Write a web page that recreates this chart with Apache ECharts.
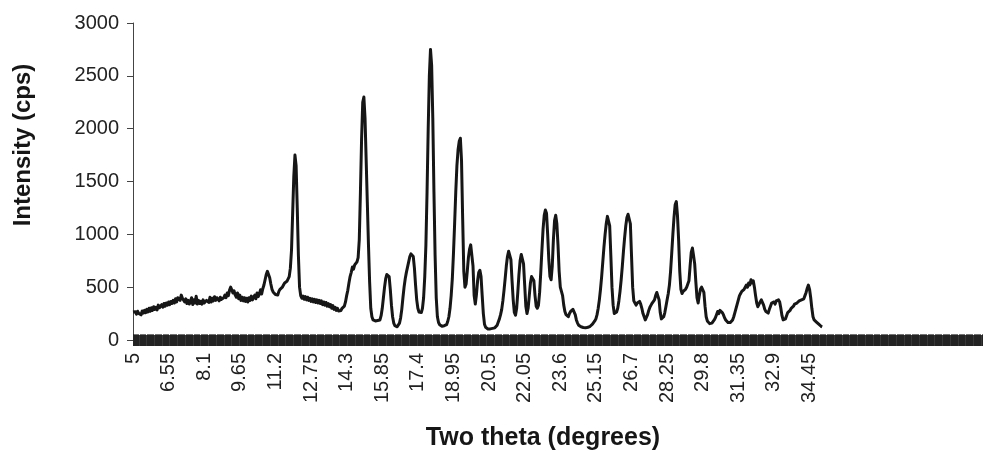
<!DOCTYPE html>
<html>
<head>
<meta charset="utf-8">
<script src="https://cdn.jsdelivr.net/npm/echarts@6/dist/echarts.min.js"></script>
<style>
  html, body { margin: 0; padding: 0; background: #ffffff; }
  #chart { width: 983px; height: 452px; }
</style>
</head>
<body>
<div id="chart"></div>
<script>
// Powder diffraction scan, 5.00–35.00 degrees two theta in 0.05 degree steps.
const startAngle = 5;
const stepAngle = 0.05;
const lastCategory = 42;      // the category axis runs on past the end of the scan
const lastLabelled = 35;

// Intensity (cps), one row per degree (20 readings each), last reading at 35.00
const intensity = [
  265,250,268,245,272,252,262,238,275,255,280,258,290,265,300,272,305,280,315,290,
  310,285,330,305,298,335,310,345,320,350,330,360,335,365,345,375,350,390,360,400,
  415,375,425,395,390,360,390,345,375,340,365,400,335,380,350,415,340,375,345,365,
  340,380,350,335,375,390,355,405,360,395,370,410,375,400,415,370,405,385,378,400,
  425,400,445,420,470,500,475,445,465,425,405,445,390,425,375,405,370,400,365,395,
  360,400,375,415,380,405,425,390,445,410,435,475,435,485,520,570,620,650,640,590,
  530,480,455,440,430,440,425,460,480,470,500,520,540,530,555,570,600,680,850,1200,
  1550,1750,1650,1250,800,500,420,395,415,385,410,380,405,375,395,365,390,360,385,355,
  380,350,375,345,370,335,360,330,355,320,345,315,335,300,325,290,310,280,300,275,
  290,280,300,285,320,360,420,470,540,600,640,690,670,710,700,740,780,950,1400,1900,
  2250,2300,2100,1700,1300,900,550,300,220,190,175,180,165,185,170,190,230,300,400,500,
  580,620,635,600,480,330,220,160,135,125,125,135,160,210,290,400,500,580,640,690,
  740,790,815,830,790,680,520,380,300,265,255,260,300,400,600,900,1400,2000,2500,2750,
  2600,2100,1400,800,400,220,165,145,140,130,140,135,150,145,175,220,300,420,580,820,
  1100,1400,1650,1800,1880,1910,1700,1150,650,500,530,650,780,860,900,910,700,420,340,430,
  560,640,660,600,420,250,150,120,110,105,110,105,115,110,120,115,125,140,170,200,
  240,290,370,470,580,700,790,840,850,760,560,380,260,235,300,450,620,750,810,820,
  720,520,320,250,300,420,540,600,615,560,420,320,300,330,450,640,850,1050,1180,1230,
  1200,1000,760,600,570,700,950,1130,1180,1100,900,650,500,460,420,330,270,240,230,220,
  250,270,285,290,280,240,190,160,140,130,125,120,118,120,115,118,120,125,130,140,
  150,160,180,200,240,300,380,480,600,740,880,1000,1100,1170,1180,1080,800,500,330,250,
  240,265,300,370,460,570,700,840,970,1080,1160,1190,1200,1100,800,500,370,350,330,350,
  340,365,340,300,250,220,190,200,240,280,310,330,350,340,380,420,450,455,380,260,
  200,190,220,260,320,380,440,520,650,820,1000,1160,1280,1310,1180,950,650,480,440,460,
  460,480,500,510,560,700,830,870,800,720,550,400,350,420,480,500,500,450,320,220,
  180,165,155,170,160,175,190,210,240,270,250,280,285,260,240,210,190,175,165,160,
  165,170,190,220,260,300,340,380,420,440,460,450,480,500,520,500,540,520,570,540,
  560,500,420,350,315,330,360,380,370,330,290,270,260,255,290,320,350,345,360,340,
  370,385,380,360,300,230,190,175,200,230,260,250,280,300,290,320,340,330,350,340,
  370,360,380,370,390,420,450,490,520,480,400,300,220,190,185,170,160,150,140,130,
  125
];

// Category axis values (two theta, degrees)
const categoryCount = Math.round((lastCategory - startAngle) / stepAngle) + 1;
const angles = Array.from({ length: categoryCount },
  (_, i) => String(+(startAngle + i * stepAngle).toFixed(2)));

// Intensity axis ticks
const yMin = 0, yMax = 3000, yStep = 500;
const labelEvery = 31;   // one label every 1.55 degrees

const yTitle = 'Intensity (cps)';
const xTitle = 'Two theta (degrees)';

const font = 'Liberation Sans, Arial, sans-serif';
const ink = '#161616';

const chart = echarts.init(document.getElementById('chart'), null, { renderer: 'canvas' });

// every category gets a cross tick: half drawn outward, half inward
const tickBand = {
  show: true,
  interval: 0,
  length: 6,
  lineStyle: { color: '#151515', width: 1, opacity: 0.6 }
};

chart.setOption({
  animation: false,
  backgroundColor: '#ffffff',
  grid: { left: 133, right: 0, top: 23, bottom: 112, containLabel: false },
  xAxis: [
    {
      type: 'category',
      position: 'bottom',
      data: angles,
      boundaryGap: false,
      axisLine: {
        show: true, onZero: true,
        lineStyle: { color: '#383838', width: 11, cap: 'butt' }
      },
      axisTick: Object.assign({ inside: false }, tickBand),
      axisLabel: {
        interval: labelEvery - 1,
        rotate: 90,
        margin: 13,
        color: '#222',
        fontFamily: font,
        fontSize: 20,
        formatter: v => (+v <= lastLabelled ? v : '')
      },
      splitLine: { show: false }
    },
    {
      type: 'category',
      position: 'bottom',
      data: angles,
      boundaryGap: false,
      axisLine: { show: false },
      axisTick: Object.assign({ inside: true }, tickBand),
      axisLabel: { show: false },
      splitLine: { show: false }
    }
  ],
  yAxis: {
    type: 'value',
    min: yMin,
    max: yMax,
    interval: yStep,
    axisLine: { show: true, lineStyle: { color: '#444', width: 1 } },
    axisTick: { show: true, length: 6, lineStyle: { color: '#444' } },
    axisLabel: {
      margin: 14, color: '#222', fontFamily: font, fontSize: 20,
      formatter: v => String(v)
    },
    splitLine: { show: false }
  },
  graphic: [
    {
      type: 'text',
      x: 23, y: 145,
      rotation: Math.PI / 2,
      style: {
        text: yTitle,
        fontFamily: font, fontWeight: 'bold', fontSize: 24,
        fill: ink, textAlign: 'center', textVerticalAlign: 'middle'
      }
    },
    {
      type: 'text',
      x: 543, y: 438,
      style: {
        text: xTitle,
        fontFamily: font, fontWeight: 'bold', fontSize: 25,
        fill: ink, textAlign: 'center', textVerticalAlign: 'middle'
      }
    }
  ],
  series: [
    {
      type: 'line',
      xAxisIndex: 0,
      data: intensity,
      showSymbol: false,
      symbol: 'none',
      smooth: false,
      lineStyle: { color: ink, width: 3, join: 'round' },
      z: 5
    }
  ]
});
</script>
</body>
</html>
